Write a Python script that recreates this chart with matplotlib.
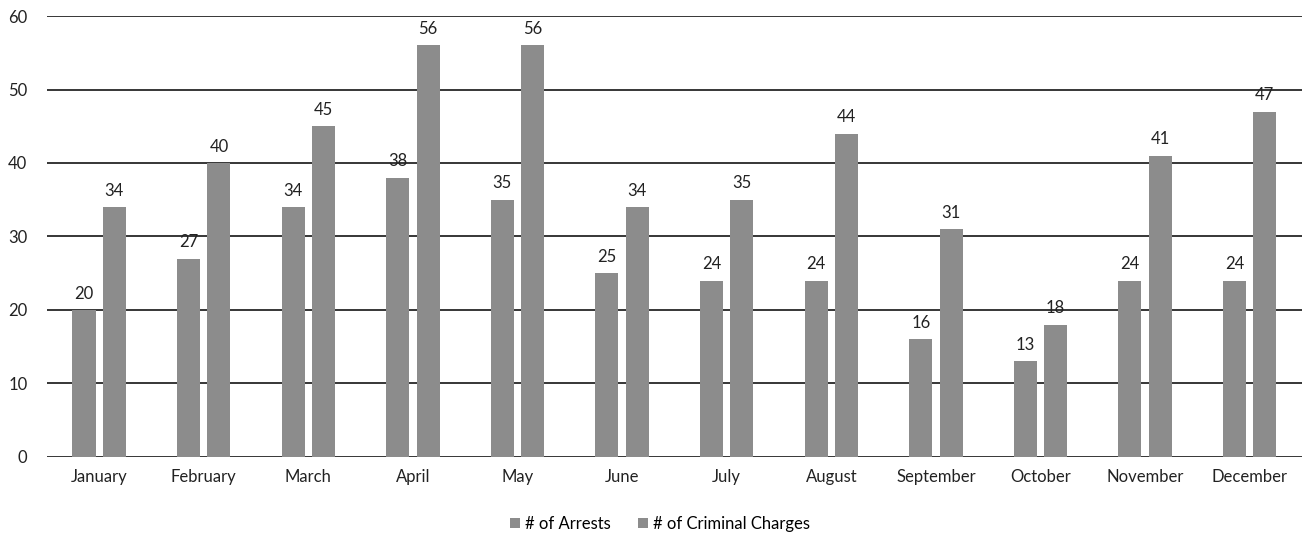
import matplotlib
matplotlib.use("Agg")
import matplotlib.pyplot as plt
import numpy as np

months = ["January", "February", "March", "April", "May", "June", "July",
          "August", "September", "October", "November", "December"]
arrests = [20, 27, 34, 38, 35, 25, 24, 24, 16, 13, 24, 24]
charges = [34, 40, 45, 56, 56, 34, 35, 44, 31, 18, 41, 47]

plt.rcParams['font.family'] = ['Lato', 'DejaVu Sans']

fig = plt.figure(figsize=(13.02, 5.35), dpi=100)
ax = fig.add_axes([0.036, 0.146, 0.964, 0.824])

x = np.arange(len(months))
w = 0.22
off = 0.145
color = "#8c8c8c"

b1 = ax.bar(x - off, arrests, w, color=color, label="# of Arrests", zorder=3)
b2 = ax.bar(x + off, charges, w, color=color, label="# of Criminal Charges", zorder=3)

for bars in (b1, b2):
    ax.bar_label(bars, padding=6, fontsize=12, color="#222222")

ax.set_xlim(-0.5, 11.5)
ax.set_ylim(0, 60)
ax.set_yticks(range(0, 61, 10))
ax.set_xticks(x)
ax.set_xticklabels(months)
ax.yaxis.grid(True, color="black", linewidth=1.1, zorder=1)
ax.set_axisbelow(True)
for s in ax.spines.values():
    s.set_visible(False)
ax.tick_params(length=0, labelsize=12, colors="#222222")
ax.tick_params(axis="x", pad=9)
ax.tick_params(axis="y", pad=14)

fig.legend(loc="lower center", bbox_to_anchor=(0.507, -0.022), ncol=2, frameon=False,
           fontsize=12, handlelength=0.6, handleheight=0.6, handletextpad=0.3,
           columnspacing=1.6)

fig.savefig("out.png", dpi=100)
